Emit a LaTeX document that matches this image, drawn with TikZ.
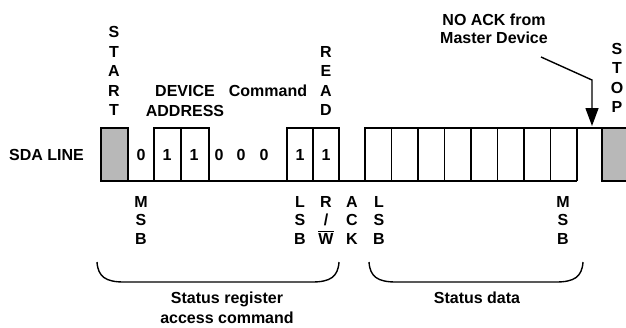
\documentclass[tikz,border=0pt]{standalone}
\usepackage{fontspec}
\setmainfont{Liberation Sans}
\usetikzlibrary{arrows.meta,positioning,calc}

\newcommand{\sdafont}{\fontsize{16}{18}\selectfont\bfseries}

\begin{document}
\begin{tikzpicture}[
    x=1pt, y=-1pt,
    lbl/.style={font=\sdafont, inner sep=0pt},
    vlbl/.style={font=\fontsize{16}{19.5}\selectfont\bfseries, align=center, inner sep=0pt},
    blbl/.style={font=\fontsize{16}{18.5}\selectfont\bfseries, align=center, inner sep=0pt},
    wire/.style={line width=1.4pt},
    cond/.style={draw, line width=1.3pt, fill=black!28},
    pointer/.style={-{Triangle[length=18pt, width=13pt]}, line width=1.4pt},
    brace/.style={line width=1.4pt}
  ]
  \useasboundingbox (0,0) rectangle (626,327);

  % Start and stop conditions
  \draw[cond] (101,128) rectangle (128,181);
  \draw[cond] (602,128) rectangle (634,181);

  % SDA waveform
  \draw[wire] (128,181) -- (577,181);
  \draw[wire] (154,181) |- (209,128) -- (209,181);
  \draw[wire] (181,128) -- (181,181);
  \draw[wire] (287,181) |- (339,128) -- (339,181);
  \draw[wire] (313,128) -- (313,181);
  \draw[wire] (365,181) |- (602,128);
  \draw[wire] (577,128) -- (577,181);
  \foreach \k in {1,...,7}
    \draw[wire] (365+26.5*\k,128) -- (365+26.5*\k,181);

  % Bit values
  \node[lbl, anchor=east] (sda) at (84,155) {SDA LINE};
  \node[lbl] (b1) at (141,155) {0};
  \node[lbl] (b2) at (167,155) {1};
  \node[lbl] (b3) at (194,155) {1};
  \node[lbl] (b4) at (219,155) {0};
  \node[lbl] (b5) at (241,155) {0};
  \node[lbl] (b6) at (264,155) {0};
  \node[lbl] (b7) at (300,155) {1};
  \node[lbl] (b8) at (326,155) {1};

  % Labels above the line
  \node[vlbl] (start) at (114,71) {S\\T\\A\\R\\T};
  \node[lbl] (device) at (185,91) {DEVICE};
  \node[lbl] (address) at (185,111) {ADDRESS};
  \node[lbl] (command) at (268,91) {Command};
  \node[vlbl] (read) at (326,81) {R\\E\\A\\D};
  \node[vlbl] (stop) at (617,78) {S\\T\\O\\P};
  \node[lbl, align=center, font=\fontsize{16}{18}\selectfont\bfseries] (noacklbl) at (494,29)
    {NO ACK from\\Master Device};

  % No acknowledge pointer
  \coordinate (ackfrom) at (541,57);
  \coordinate (ackbend) at (592,80);
  \coordinate (noack) at (592,126);
  \draw[pointer] (ackfrom) -- (ackbend) -- (noack);

  % Labels below the line
  \node[blbl] (msb1) at (141,220) {M\\S\\B};
  \node[blbl] (lsb1) at (300,220) {L\\S\\B};
  \node[blbl] (rw) at (326,220) {R\\/\\$\overline{\mbox{W}}$};
  \node[blbl] (ack) at (352,220) {A\\C\\K};
  \node[blbl] (lsb2) at (379,220) {L\\S\\B};
  \node[blbl] (msb2) at (563,220) {M\\S\\B};

  % Braces
  \draw[brace] (97,262) .. controls (98,277) and (106,282) .. (124,282)
    -- (312,282) .. controls (330,282) and (338,277) .. (339,262);
  \draw[brace] (369,262) .. controls (370,277) and (378,282) .. (396,282)
    -- (556,282) .. controls (574,282) and (582,277) .. (583,262);
  \node[lbl, align=center, font=\fontsize{16}{20}\selectfont\bfseries] (cmdlbl) at (227,308)
    {Status register\\access command};
  \node[lbl] (datalbl) at (477,298) {Status data};
\end{tikzpicture}
\end{document}
